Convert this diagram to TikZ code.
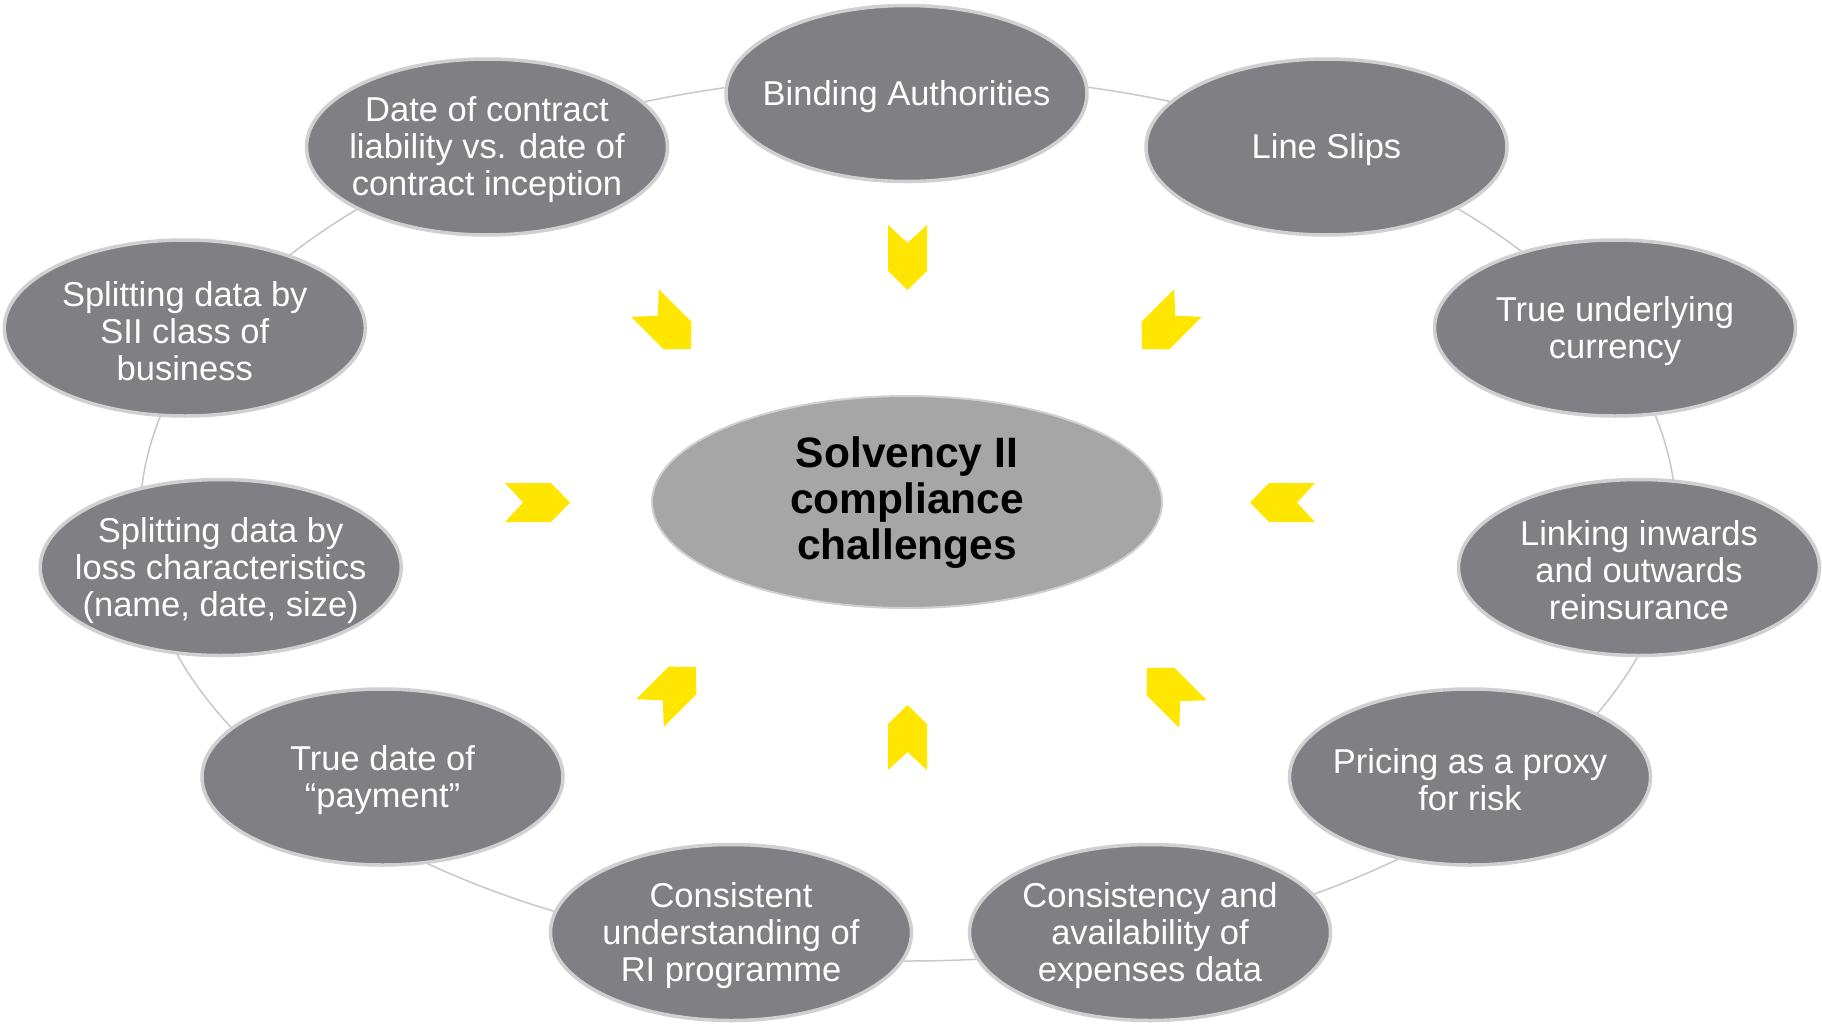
\documentclass[tikz,border=0pt]{standalone}
\usepackage{fontspec}
\setmainfont{Liberation Sans}
\usetikzlibrary{shapes.geometric}
\definecolor{bubfill}{HTML}{7F7F84}
\definecolor{bubline}{HTML}{D0D0D0}
\definecolor{hubfill}{HTML}{A6A6A6}
\definecolor{chevfill}{HTML}{FFE600}
\definecolor{ringline}{HTML}{C8C8C8}
\tikzset{
  bub/.style={ellipse, fill=bubfill, draw=bubline, line width=3.5pt,
    minimum width=361pt, minimum height=176pt, inner sep=0pt},
  bubtext/.style={text=white, align=center, yshift=-3pt,
    font=\fontsize{34.5}{37}\selectfont, inner sep=0pt},
  hub/.style={ellipse, fill=hubfill, draw=bubline, line width=2pt,
    minimum width=510pt, minimum height=212pt, inner sep=0pt},
  hubtext/.style={text=black, align=center, yshift=-1pt,
    font=\fontsize{42.5}{46}\selectfont\bfseries, inner sep=0pt},
  ring/.style={draw=ringline, line width=1.5pt},
  chevron/.pic={\fill[chevfill] (0,0) -- (-19,19.5) -- (-65,19.5) -- (-47,0)
    -- (-65,-19.5) -- (-19,-19.5) -- cycle;}
}
\begin{document}
\begin{tikzpicture}[x=1pt,y=-1pt]
\useasboundingbox (0,0) rectangle (1822,1025);
% ring behind bubbles
\coordinate (ringc) at (908,518);
\draw[ring] (ringc) ellipse [x radius=768pt, y radius=443pt];
% outer bubbles
\node[bub] (b1) at (906.5,93.5) {};
\node[bubtext] (t1) at (b1) {Binding Authorities};
\node[bub] (b2) at (1326.5,147) {};
\node[bubtext] (t2) at (b2) {Line Slips};
\node[bub] (b3) at (1615,328) {};
\node[bubtext] (t3) at (b3) {True underlying\\currency};
\node[bub] (b4) at (1639,567.5) {};
\node[bubtext] (t4) at (b4) {Linking inwards\\and outwards\\reinsurance};
\node[bub] (b5) at (1470,777) {};
\node[bubtext] (t5) at (b5) {Pricing as a proxy\\for risk};
\node[bub] (b6) at (1150,932.5) {};
\node[bubtext] (t6) at (b6) {Consistency and\\availability of\\expenses data};
\node[bub] (b7) at (731,932.5) {};
\node[bubtext] (t7) at (b7) {Consistent\\understanding of\\RI programme};
\node[bub] (b8) at (382.5,777) {};
\node[bubtext] (t8) at (b8) {True date of\\“payment”};
\node[bub] (b9) at (220.7,567.5) {};
\node[bubtext] (t9) at (b9) {Splitting data by\\loss characteristics\\(name, date, size)};
\node[bub] (b10) at (184.8,328) {};
\node[bubtext] (t10) at (b10) {Splitting data by\\SII class of\\business};
\node[bub] (b11) at (487,147) {};
\node[bubtext] (t11) at (b11) {Date of contract\\liability vs. date of\\contract inception};
% hub
\node[hub] (hub) at (907,502) {};
\node[hubtext] (hubt) at (hub) {Solvency II\\compliance\\challenges};
% chevrons
\pic[rotate=-90] at (907.5,290) {chevron};
\pic[rotate=90] at (907.5,705) {chevron};
\pic[rotate=0] at (570,502.5) {chevron};
\pic[rotate=180] at (1250,502.5) {chevron};
\pic[rotate=-45] at (691,349) {chevron};
\pic[rotate=-135] at (1142,349) {chevron};
\pic[rotate=45] at (696,667) {chevron};
\pic[rotate=135] at (1147,668) {chevron};
\end{tikzpicture}
\end{document}
